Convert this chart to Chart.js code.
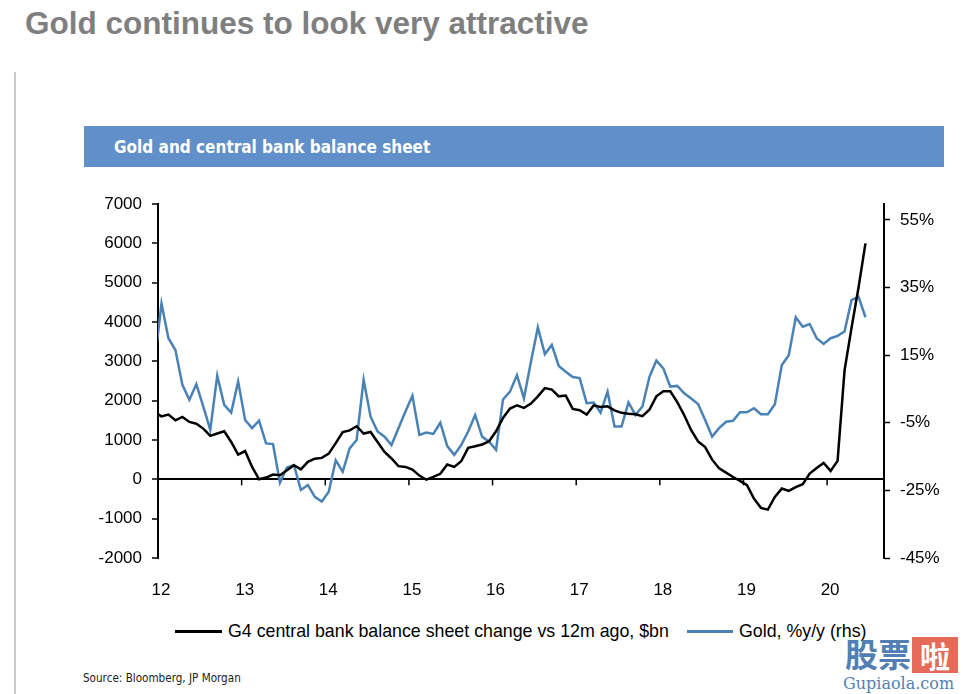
<!DOCTYPE html>
<html>
<head>
<meta charset="utf-8">
<script src="https://cdn.jsdelivr.net/npm/chart.js@4.4.1/dist/chart.umd.min.js"></script>
<style>
  html, body { margin: 0; padding: 0; background: #fff; }
  body { width: 963px; height: 694px; position: relative; overflow: hidden; font-family: 'Liberation Sans', Arial, sans-serif; }
  .vline { position: absolute; left: 14px; top: 72px; width: 2px; height: 622px; background: #c9c9c9; }
  .title { position: absolute; left: 25px; top: 8px; margin: 0; font: bold 31.5px/31.5px 'Liberation Sans', Arial, sans-serif; color: #7f7f7f; white-space: nowrap; }
  .banner { position: absolute; left: 84px; top: 126px; width: 860px; height: 41px; background: #618fc9; }
  .banner span { position: absolute; left: 30px; top: 0; font: bold 17px/43px 'DejaVu Sans Condensed', 'DejaVu Sans', sans-serif; color: #fff; white-space: nowrap; }
  #chart { position: absolute; left: 0; top: 170px; }
  .legend { position: absolute; top: 620px; left: 0; height: 22px; font-size: 17.8px; line-height: 22px; color: #000; white-space: nowrap; }
  .legend .sw { position: absolute; top: 10px; height: 2.5px; }
  .legend .tx { position: absolute; top: 0; }
  .source { position: absolute; left: 83px; top: 671px; font: 11.6px 'DejaVu Sans Condensed', 'DejaVu Sans', sans-serif; color: #222; white-space: nowrap; }
  .wm { position: absolute; left: 843px; top: 634px; width: 118px; height: 60px; opacity: 0.9; }
  .wm .a { position: absolute; left: 2px; top: 0; font: bold 33px/38px 'Noto Sans CJK SC', sans-serif; color: #3f72ab; }
  .wm .b { position: absolute; left: 69px; top: 3px; width: 46px; height: 36px; background: #e35b46; color: #fff; text-align: center; font: bold 30px/36px 'Noto Sans CJK SC', sans-serif; }
  .wm .c { position: absolute; left: 0; top: 41px; font: 16px/17px 'DejaVu Serif', serif; color: #3f72ab; }
</style>
</head>
<body>
<div class="vline"></div>
<h1 class="title">Gold continues to look very attractive</h1>
<div class="banner"><span>Gold and central bank balance sheet</span></div>
<canvas id="chart" width="963" height="430"></canvas>
<div class="legend">
  <div class="sw" style="left:175px;width:47px;background:#000"></div>
  <div class="tx" style="left:228px" id="lg1"></div>
  <div class="sw" style="left:687px;width:46px;background:#4a82b6"></div>
  <div class="tx" style="left:739px" id="lg2"></div>
</div>
<div class="source">Source: Bloomberg, JP Morgan</div>
<div class="wm"><span class="a">股票</span><span class="b">啦</span><span class="c">Gupiaola.com</span></div>

<script>
// monthly data, first point Dec 2011, last Jun 2020
var startYear = 2011, startMonth = 11;

var seriesNames = ['G4 central bank balance sheet change vs 12m ago, $bn', 'Gold, %y/y (rhs)'];

// G4 balance sheet change, $bn (lhs)
var balanceSheet = [
  1710, 1600, 1645, 1500, 1585, 1460, 1415, 1290, 1105, 1165, 1220, 950, 630,
  720, 315, 0, 45, 120, 105, 230, 360, 255, 445, 525, 545,
  655, 920, 1200, 1245, 1350, 1165, 1205, 950, 695, 530, 335, 315,
  250, 95, -10, 60, 140, 375, 315, 460, 800, 840, 885, 970,
  1220, 1560, 1800, 1880, 1815, 1925, 2110, 2320, 2280, 2110, 2130, 1790,
  1755, 1645, 1880, 1840, 1855, 1755, 1690, 1670, 1655, 1605, 1770, 2110,
  2240, 2240, 1965, 1630, 1250, 960, 820, 500, 280, 170, 60, -40,
  -150, -490, -725, -770, -445, -235, -295, -200, -125, 145, 290, 415,
  215, 470, 2770, 3850, 4870, 6000
];

// Gold, % y/y (rhs)
var goldYoY = [
  12.5, 30.3, 20.0, 16.5, 6.2, 1.8, 6.4, -0.2, -7.1, 8.9, 0.3, -2.0, 7.2,
  -4.2, -6.6, -4.4, -11.1, -11.3, -22.7, -18.2, -17.5, -24.9, -23.4, -26.9, -28.3,
  -25.4, -16.1, -19.5, -12.6, -10.1, 7.7, -3.2, -7.6, -9.1, -11.6, -6.6, -1.7,
  3.0, -8.6, -7.9, -8.3, -5.0, -11.9, -14.5, -11.6, -7.6, -2.7, -9.1, -10.6,
  -13.0, 1.9, 4.2, 9.1, 2.2, 13.0, 23.2, 15.3, 18.0, 11.8, 10.1, 8.5,
  8.2, 0.8, 1.0, -2.0, 4.2, -6.1, -6.1, 1.0, -2.7, -0.2, 8.5, 13.4,
  11.1, 5.7, 5.9, 3.7, 2.2, 0.5, -4.2, -9.1, -6.6, -4.7, -4.4, -1.9,
  -1.9, -0.7, -2.5, -2.5, 0.5, 12.1, 15.0, 26.2, 23.4, 24.2, 20.0, 18.3,
  20.0, 20.7, 22.0, 31.3, 32.3, 26.2
];

var yearTicks = [2012, 2013, 2014, 2015, 2016, 2017, 2018, 2019, 2020];
var yearLabels = ['12', '13', '14', '15', '16', '17', '18', '19', '20'];
var leftTicks = [-2000, -1000, 0, 1000, 2000, 3000, 4000, 5000, 6000, 7000];
var rightTicks = [-45, -25, -5, 15, 35, 55];

document.getElementById('lg1').textContent = seriesNames[0];
document.getElementById('lg2').textContent = seriesNames[1];

var blackPts = [], goldPts = [];
for (var i = 0; i < balanceSheet.length; i++) {
    var x = startYear + (startMonth + i + 0.5) / 12;
    blackPts.push({x: x, y: balanceSheet[i]});
    goldPts.push({x: x, y: goldYoY[i]});
}

// small year ticks sitting on the zero line
var zeroTicks = {
    id: 'zeroTicks',
    afterDatasetsDraw: function(chart) {
        var xs = chart.scales.x;
        var y0 = chart.scales.y.getPixelForValue(0);
        var ctx = chart.ctx;
        ctx.save();
        ctx.strokeStyle = '#000';
        ctx.lineWidth = 1.5;
        for (var j = 0; j < yearTicks.length; j++) {
            var px = xs.getPixelForValue(yearTicks[j]);
            ctx.beginPath();
            ctx.moveTo(px, y0);
            ctx.lineTo(px, y0 + 6);
            ctx.stroke();
        }
        ctx.restore();
    }
};

Chart.defaults.font.family = "'Liberation Sans', Arial, sans-serif";
Chart.defaults.color = '#000';

var myChart = new Chart(document.getElementById('chart'), {
    type: 'line',
    data: {
        datasets: [{
            label: seriesNames[0],
            data: blackPts,
            borderColor: '#000',
            borderWidth: 2.5,
            pointRadius: 0,
            tension: 0,
            yAxisID: 'y'
        }, {
            label: seriesNames[1],
            data: goldPts,
            borderColor: '#4a82b6',
            borderWidth: 2.5,
            pointRadius: 0,
            tension: 0,
            yAxisID: 'y2'
        }]
    },
    options: {
        responsive: false,
        animation: false,
        devicePixelRatio: 1,
        layout: { padding: { top: 34, left: 0, right: 0, bottom: 0 } },
        plugins: { legend: { display: false }, tooltip: { enabled: false } },
        scales: {
            x: {
                type: 'linear',
                min: 2012,
                max: 2020.68,
                afterBuildTicks: function(scale) {
                    scale.ticks = yearTicks.map(function(v) { return {value: v}; });
                },
                afterFit: function(scale) { scale.height = 42; },
                grid: { display: false },
                border: { display: false },
                ticks: {
                    font: { size: 17 },
                    padding: 14,
                    labelOffset: 3,
                    maxRotation: 0,
                    callback: function(v) { return yearLabels[yearTicks.indexOf(v)]; }
                }
            },
            y: {
                position: 'left',
                min: -2000,
                max: 7000,
                afterBuildTicks: function(scale) {
                    scale.ticks = leftTicks.map(function(v) { return {value: v}; });
                },
                afterFit: function(scale) { scale.width = 158; },
                border: { display: true, color: '#000', width: 2 },
                grid: {
                    drawOnChartArea: true,
                    color: function(c) { return c.tick && c.tick.value === 0 ? '#000' : 'rgba(0,0,0,0)'; },
                    lineWidth: 2,
                    tickColor: '#000',
                    tickWidth: 1.5,
                    tickLength: 6
                },
                ticks: {
                    font: { size: 17 },
                    padding: 10,
                    callback: function(v) { return String(v); }
                }
            },
            y2: {
                position: 'right',
                min: -45,
                max: 59.7,
                afterBuildTicks: function(scale) {
                    scale.ticks = rightTicks.map(function(v) { return {value: v}; });
                },
                afterFit: function(scale) { scale.width = 79; },
                border: { display: true, color: '#000', width: 2 },
                grid: {
                    drawOnChartArea: false,
                    tickColor: '#000',
                    tickWidth: 1.5,
                    tickLength: 6
                },
                ticks: {
                    font: { size: 17 },
                    padding: 10,
                    callback: function(v) { return v + '%'; }
                }
            }
        }
    },
    plugins: [zeroTicks]
});
</script>
</body>
</html>
